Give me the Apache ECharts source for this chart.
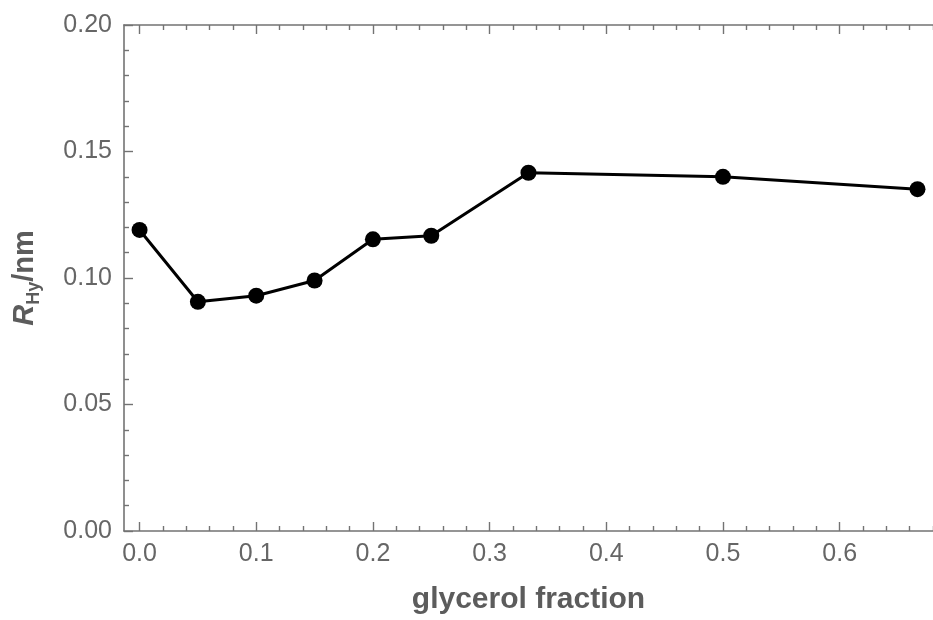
<!DOCTYPE html>
<html>
<head>
<meta charset="utf-8">
<script src="https://cdn.jsdelivr.net/npm/echarts@6/dist/echarts.min.js"></script>
<style>
  html, body { margin: 0; padding: 0; background: #fff; }
  #chart { width: 933px; height: 620px; }
</style>
</head>
<body>
<div id="chart"></div>
<script>
// glycerol fraction vs R_Hy
var fraction = [0, 0.05, 0.1, 0.15, 0.2, 0.25, 0.3333, 0.5, 0.6667];
var rHy = [0.119, 0.0906, 0.0930, 0.0990, 0.1153, 0.1167, 0.1416, 0.1400, 0.1351];

var xMajor = [0, 0.1, 0.2, 0.3, 0.4, 0.5, 0.6];
var xMinorStep = 0.02;

var axisColor = '#737373';
var labelColor = '#666';
var titleColor = '#5c5c5c';
var fontFam = '"Liberation Sans", Arial, sans-serif';

var xMin = -0.01333, xMax = 0.68;

var xMinor = [];
for (var i = 0; i * xMinorStep <= xMax; i++) {
  var v = +(i * xMinorStep).toFixed(4);
  if (i % 5 !== 0) xMinor.push(v);
}

function xAxisDef(pos, major, showLabel, showLine) {
  return {
    type: 'value',
    position: pos,
    min: xMin,
    max: xMax,
    name: (showLabel ? 'glycerol fraction' : ''),
    nameLocation: 'middle',
    nameGap: 54,
    nameTextStyle: { color: titleColor, fontSize: 30, fontWeight: 'bold', fontFamily: fontFam },
    axisLine: { show: showLine, onZero: false, lineStyle: { color: axisColor, width: 1.6 } },
    axisTick: {
      show: true, inside: true, length: major ? 9 : 5,
      customValues: major ? xMajor : xMinor,
      lineStyle: { color: axisColor, width: 1.4 }
    },
    axisLabel: {
      show: showLabel, margin: 11, color: labelColor, fontSize: 25, fontFamily: fontFam,
      customValues: xMajor,
      formatter: function (val) { return val.toFixed(1); }
    },
    splitLine: { show: false }
  };
}

var chart = echarts.init(document.getElementById('chart'));
chart.setOption({
  animation: false,
  backgroundColor: '#fff',
  grid: { left: 124, top: 25, width: 823, height: 506, containLabel: false },
  xAxis: [
    xAxisDef('bottom', true, true, true),
    xAxisDef('bottom', false, false, false),
    xAxisDef('top', true, false, true),
    xAxisDef('top', false, false, false)
  ],
  yAxis: [{
    type: 'value',
    position: 'left',
    min: 0,
    max: 0.2,
    interval: 0.05,
    name: '{r|R}{s|Hy}{n|/nm}',
    nameLocation: 'middle',
    nameRotate: 90,
    nameGap: 81,
    nameTextStyle: {
      color: titleColor, fontFamily: fontFam,
      rich: {
        r: { fontSize: 29, fontWeight: 'bold', fontStyle: 'italic', color: titleColor, fontFamily: fontFam, lineHeight: 36 },
        s: { fontSize: 18, fontWeight: 'bold', color: titleColor, fontFamily: fontFam, lineHeight: 18, verticalAlign: 'bottom' },
        n: { fontSize: 29, fontWeight: 'bold', color: titleColor, fontFamily: fontFam, lineHeight: 36 }
      }
    },
    axisLine: { show: true, onZero: false, lineStyle: { color: axisColor, width: 1.6 } },
    axisTick: { show: true, inside: true, length: 9, lineStyle: { color: axisColor, width: 1.4 } },
    minorTick: { show: true, splitNumber: 5, length: 5, lineStyle: { color: axisColor, width: 1.4 } },
    axisLabel: {
      margin: 12, color: labelColor, fontSize: 25, fontFamily: fontFam,
      formatter: function (val) { return val.toFixed(2); }
    },
    splitLine: { show: false }
  }],
  series: [{
    type: 'line',
    xAxisIndex: 0,
    yAxisIndex: 0,
    data: fraction.map(function (x, i) { return [x, rHy[i]]; }),
    symbol: 'circle',
    symbolSize: 16,
    lineStyle: { color: '#000', width: 3 },
    itemStyle: { color: '#000' },
    clip: false
  }]
});
</script>
</body>
</html>
